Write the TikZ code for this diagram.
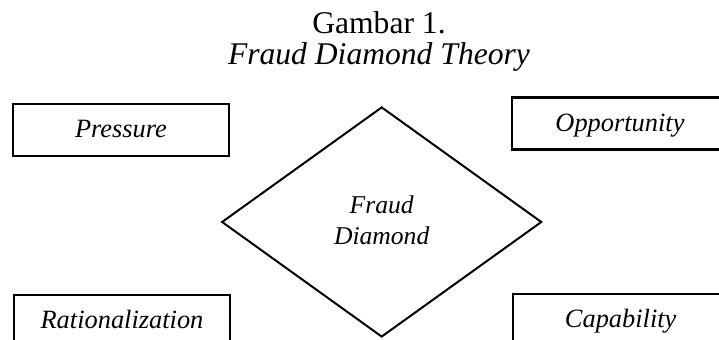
\documentclass[tikz,border=0pt]{standalone}
\usepackage{fontspec}
\setmainfont{Liberation Serif}
\usetikzlibrary{shapes.geometric}

\begin{document}
\begin{tikzpicture}[x=0.5pt,y=-0.5pt,
  factor/.style={draw,line width=1.15pt,minimum width=108pt,minimum height=26pt,inner sep=0pt,
    font=\fontsize{13.2}{15}\selectfont\itshape,text height=1em,text depth=0.25em}]
  \useasboundingbox (0,0) rectangle (719,340);
  \clip (0,0) rectangle (719,340);

  % Title:
  \node[anchor=base] (title) at (379,34) {\fontsize{15.8}{19}\selectfont Gambar 1.};
  \node[anchor=base] (subtitle) at (379,65) {\fontsize{15.8}{19}\selectfont\itshape Fraud Diamond Theory};

  % Diamond
  \node[draw,diamond,line width=1pt,minimum width=160pt,minimum height=115pt,inner sep=0pt] (diamond) at (381.7,222) {};
  \node[align=center,font=\fontsize{12.8}{15.5}\selectfont\itshape] (diamondtext) at (381.7,220) {Fraud\\Diamond};

  % Factors
  \node[factor] (pressure) at (121,130) {Pressure};
  \node[factor] (opportunity) at (620,123.6) {Opportunity};
  \node[factor] (rationalization) at (122,321) {Rationalization};
  \node[factor] (capability) at (620.7,320.3) {Capability};

\end{tikzpicture}
\end{document}
